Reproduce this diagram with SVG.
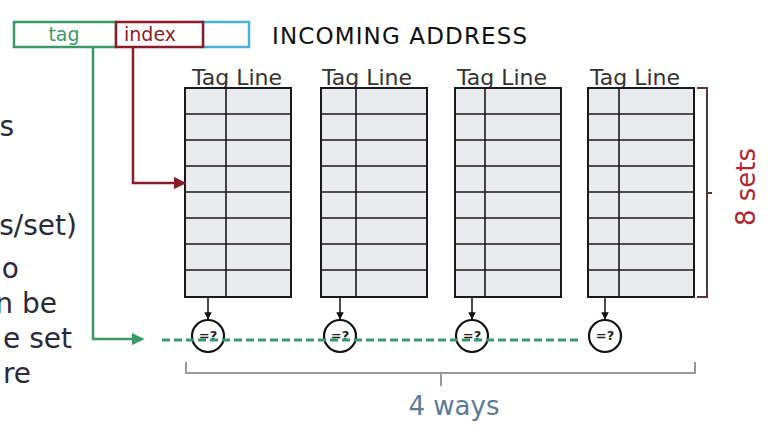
<svg xmlns="http://www.w3.org/2000/svg" width="769" height="432" viewBox="0 0 769 432">
<style>
text{font-family:"DejaVu Sans","Liberation Sans",sans-serif}
.cell{fill:#e9ebef;stroke:#1a1a1a;stroke-width:2}
.row{stroke:#1a1a1a;stroke-width:1.6}
.hdr{font-size:22px;fill:#333}
.cmp{fill:none;stroke:#111;stroke-width:2.2}
.eq{font-size:13px;font-weight:bold;fill:#222;text-anchor:middle}
.side{font-size:28px;fill:#2a2a3a;text-anchor:end}
</style>
<defs>
<marker id="ah" viewBox="0 0 10 10" refX="9" refY="5" markerWidth="5" markerHeight="5" orient="auto"><path d="M0,0 L10,5 L0,10 z" fill="#111"/></marker>
<marker id="ag" viewBox="0 0 10 10" refX="9" refY="5" markerWidth="5" markerHeight="5" orient="auto"><path d="M0,0 L10,5 L0,10 z" fill="#3a9a66"/></marker>
<marker id="ar" viewBox="0 0 10 10" refX="9" refY="5" markerWidth="5" markerHeight="5" orient="auto"><path d="M0,0 L10,5 L0,10 z" fill="#8a1c28"/></marker>
<g id="way">
<rect class="cell" x="0" y="0" width="106" height="209"/>
<path class="row" d="M0,26H106M0,52H106M0,78H106M0,104H106M0,130H106M0,156H106M0,182H106"/>
</g>
</defs>
<rect width="769" height="432" fill="#fff"/>

<g id="side-text">
<text class="side" x="14" y="136">s</text>
<text class="side" x="77" y="235">s/set)</text>
<text class="side" x="19" y="278">o</text>
<text class="side" x="57" y="313">n be</text>
<text class="side" x="72" y="348">e set</text>
<text class="side" x="31" y="383">re</text>
</g>

<g id="address">
<rect x="14" y="22" width="102" height="25" fill="#fff" stroke="#3a9a66" stroke-width="2.5"/>
<rect x="203" y="22" width="46" height="25" fill="#fff" stroke="#4ab0d8" stroke-width="2.5"/>
<rect x="116" y="22" width="87" height="25" fill="#fff" stroke="#8a1c28" stroke-width="2.5"/>
<text x="64" y="41" font-size="19" fill="#3a9a66" text-anchor="middle">tag</text>
<text x="124" y="41" font-size="19" fill="#8a1c28">index</text>
<text x="272" y="44" font-size="23" fill="#111" textLength="255" lengthAdjust="spacing">INCOMING  ADDRESS</text>
</g>

<g id="way1"><text class="hdr" x="192" y="85">Tag Line</text><use href="#way" x="185" y="88"/><line class="row" x1="226" y1="88" x2="226" y2="297" stroke-width="2"/></g>
<g id="way2"><text class="hdr" x="322" y="85">Tag Line</text><use href="#way" x="321" y="88"/><line class="row" x1="356" y1="88" x2="356" y2="297" stroke-width="2"/></g>
<g id="way3"><text class="hdr" x="457" y="85">Tag Line</text><use href="#way" x="455" y="88"/><line class="row" x1="485" y1="88" x2="485" y2="297" stroke-width="2"/></g>
<g id="way4"><text class="hdr" x="590" y="85">Tag Line</text><use href="#way" x="588" y="88"/><line class="row" x1="619" y1="88" x2="619" y2="297" stroke-width="2"/></g>

<g id="cmp1"><circle class="cmp" cx="208" cy="336" r="16"/><text class="eq" x="208" y="340">=?</text></g>
<g id="cmp2"><circle class="cmp" cx="340" cy="336" r="16"/><text class="eq" x="340" y="340">=?</text></g>
<g id="cmp3"><circle class="cmp" cx="472" cy="336" r="16"/><text class="eq" x="472" y="340">=?</text></g>
<g id="cmp4"><circle class="cmp" cx="605" cy="336" r="16"/><text class="eq" x="605" y="340">=?</text></g>

<g id="connectors">
<path d="M93,47V339H143" fill="none" stroke="#3a9a66" stroke-width="2.5" marker-end="url(#ag)"/>
<path d="M133,47V183H185" fill="none" stroke="#8a1c28" stroke-width="2.5" marker-end="url(#ar)"/>
<line x1="162" y1="340" x2="578" y2="340" stroke="#3a9a66" stroke-width="3" stroke-dasharray="8 4"/>
<line x1="208" y1="297" x2="208" y2="319" stroke="#111" stroke-width="1.5" marker-end="url(#ah)"/>
<line x1="340" y1="297" x2="340" y2="319" stroke="#111" stroke-width="1.5" marker-end="url(#ah)"/>
<line x1="472" y1="297" x2="472" y2="319" stroke="#111" stroke-width="1.5" marker-end="url(#ah)"/>
<line x1="605" y1="297" x2="605" y2="319" stroke="#111" stroke-width="1.5" marker-end="url(#ah)"/>
</g>

<g id="sets-brace">
<path d="M697,88H707V297H697M707,193H712" fill="none" stroke="#5a3535" stroke-width="2"/>
<text transform="translate(755,187) rotate(-90)" font-size="26" fill="#b0282e" text-anchor="middle">8 sets</text>
</g>

<g id="ways-brace">
<path d="M186,362V373H695V362M441,373V386" fill="none" stroke="#999" stroke-width="2"/>
<text x="454" y="415" font-size="26" fill="#5c7a99" text-anchor="middle">4 ways</text>
</g>
</svg>
